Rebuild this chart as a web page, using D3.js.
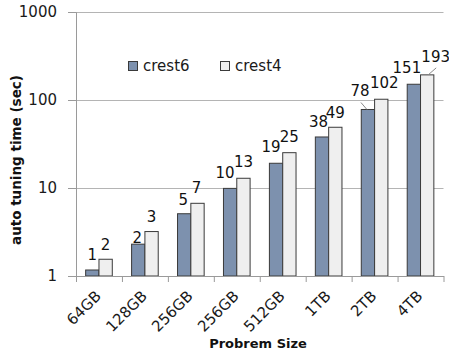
<!DOCTYPE html>
<html>
<head>
<meta charset="utf-8">
<script src="https://cdn.jsdelivr.net/npm/d3@7"></script>
<style>
  html, body { margin: 0; padding: 0; background: #fff; }
  svg { display: block; font-family: "DejaVu Sans", sans-serif; }
</style>
</head>
<body>
<svg id="chart" width="449" height="353"></svg>
<script>
// Problem sizes along the x axis
const categories = ["64GB", "128GB", "256GB", "256GB", "512GB", "1TB", "2TB", "4TB"];
// Auto tuning time in seconds for each solver version
const crest6 = [1.17, 2.3, 5.1, 9.9, 19.1, 38, 78, 151];
const crest4 = [1.55, 3.2, 6.7, 12.9, 25.2, 49, 102, 193];
const seriesNames = ["crest6", "crest4"];
const yTicks = [1, 10, 100, 1000];

// Label nudges: [horizontal shift, gap between label baseline and bar top]
const crest6LabelNudge = [[0, 10], [-1, 1], [-1, 9], [-5, 10], [-5, 11.5], [-3.5, 9.5], [-8, 13], [-7, 11]];
const crest4LabelNudge = [[0, 9], [0, 10], [-1, 10], [0, 11], [0, 11], [0, 9.5], [3, 11], [8.5, 13]];

const colors = { crest6: "#7d91ae", crest4: "#efefef" };
const values = { crest6, crest4 };
const nudges = { crest6: crest6LabelNudge, crest4: crest4LabelNudge };

const svg = d3.select("#chart");
const plotLeft = 76, plotRight = 443.5, plotTop = 12, plotBottom = 276;

const x = d3.scaleBand().domain(d3.range(categories.length)).range([plotLeft, plotRight]).padding(0);
const xInner = d3.scaleBand().domain(seriesNames).range([0, x.bandwidth()])
  .paddingInner(0).paddingOuter(0.725);
const y = d3.scaleLog().domain([1, 1000]).range([plotBottom, plotTop]);

// Horizontal gridlines
svg.append("g")
  .attr("transform", `translate(${plotLeft},0)`)
  .call(d3.axisLeft(y).tickValues(yTicks.slice(1)).tickSize(-(plotRight - plotLeft)).tickFormat(""))
  .call(g => g.select(".domain").remove())
  .call(g => g.selectAll("line").attr("stroke", "#b4b4b4"));

// Y axis
svg.append("g")
  .attr("transform", `translate(${plotLeft},0)`)
  .call(d3.axisLeft(y).tickValues(yTicks).tickSize(8).tickPadding(11).tickFormat(d3.format("d")))
  .call(g => g.select(".domain").attr("stroke", "#9a9a9a"))
  .call(g => g.selectAll("line").attr("stroke", "#9a9a9a"))
  .call(g => g.selectAll("text").attr("font-size", 15).attr("font-family", "DejaVu Sans").attr("fill", "#1a1a1a"));

// Bars
const groups = svg.append("g").selectAll("g")
  .data(categories.map((c, i) => i))
  .join("g")
  .attr("transform", i => `translate(${x(i)},0)`);

groups.selectAll("rect")
  .data(i => seriesNames.map(s => ({ s, i, v: values[s][i] })))
  .join("rect")
  .attr("x", d => xInner(d.s))
  .attr("width", xInner.bandwidth())
  .attr("y", d => y(d.v))
  .attr("height", d => y(1) - y(d.v))
  .attr("fill", d => colors[d.s])
  .attr("stroke", "#3a3a3a")
  .attr("stroke-width", 1);

// X axis line and category boundary ticks
const xEdges = d3.scaleLinear().domain([0, categories.length]).range([plotLeft, plotRight]);
svg.append("g")
  .attr("transform", `translate(0,${plotBottom})`)
  .call(d3.axisBottom(xEdges).ticks(categories.length).tickSize(6).tickSizeOuter(0).tickFormat(""))
  .call(g => g.select(".domain").attr("stroke", "#9a9a9a"))
  .call(g => g.selectAll("line").attr("stroke", "#9a9a9a"));

// Rotated category labels
svg.append("g").selectAll("text")
  .data(categories.map((c, i) => i))
  .join("text")
  .attr("transform", i => `translate(${x(i) + x.bandwidth() / 2 + 3},297) rotate(-45)`)
  .attr("text-anchor", "end")
  .attr("font-size", 15)
  .attr("fill", "#1a1a1a")
  .text(i => categories[i]);

// Value labels
const labelData = [];
seriesNames.forEach(s => values[s].forEach((v, i) => labelData.push({ s, i, v })));
svg.append("g").selectAll("text")
  .data(labelData)
  .join("text")
  .attr("x", d => x(d.i) + xInner(d.s) + xInner.bandwidth() / 2 + nudges[d.s][d.i][0])
  .attr("y", d => y(d.v) - nudges[d.s][d.i][1])
  .attr("text-anchor", "middle")
  .attr("font-size", 15)
  .attr("fill", "#111")
  .text(d => Math.round(d.v));

// Leader lines for the labels that sit away from their bars
const leaders = [{ s: "crest6", i: 6, dx: -7, dy: -7 }, { s: "crest4", i: 7, dx: 9, dy: -7 }];
svg.append("g").selectAll("line")
  .data(leaders)
  .join("line")
  .attr("x1", d => x(d.i) + xInner(d.s) + xInner.bandwidth() / 2 + (d.dx < 0 ? -1 : 1))
  .attr("y1", d => y(values[d.s][d.i]))
  .attr("x2", d => x(d.i) + xInner(d.s) + xInner.bandwidth() / 2 + d.dx)
  .attr("y2", d => y(values[d.s][d.i]) + d.dy)
  .attr("stroke", "#8a8a8a")
  .attr("stroke-width", 1);

// Legend
const legend = svg.append("g");
const legendX = [128, 220];
seriesNames.forEach((s, k) => {
  const g = legend.append("g").attr("transform", `translate(${legendX[k]},66)`);
  g.append("rect").attr("x", 0.5).attr("y", -4.5).attr("width", 9).attr("height", 9)
    .attr("fill", colors[s]).attr("stroke", "#3a3a3a");
  g.append("text").attr("x", 15).attr("y", 5).attr("font-size", 15).attr("fill", "#1a1a1a").text(s);
});

// Axis titles
svg.append("text")
  .attr("transform", "translate(21,160) rotate(-90)")
  .attr("text-anchor", "middle")
  .attr("font-size", 13.5)
  .attr("font-weight", "bold")
  .attr("fill", "#111")
  .text("auto tuning time (sec)");

svg.append("text")
  .attr("x", 258)
  .attr("y", 348)
  .attr("text-anchor", "middle")
  .attr("font-size", 13)
  .attr("font-weight", "bold")
  .attr("fill", "#111")
  .text("Probrem Size");
</script>
</body>
</html>
